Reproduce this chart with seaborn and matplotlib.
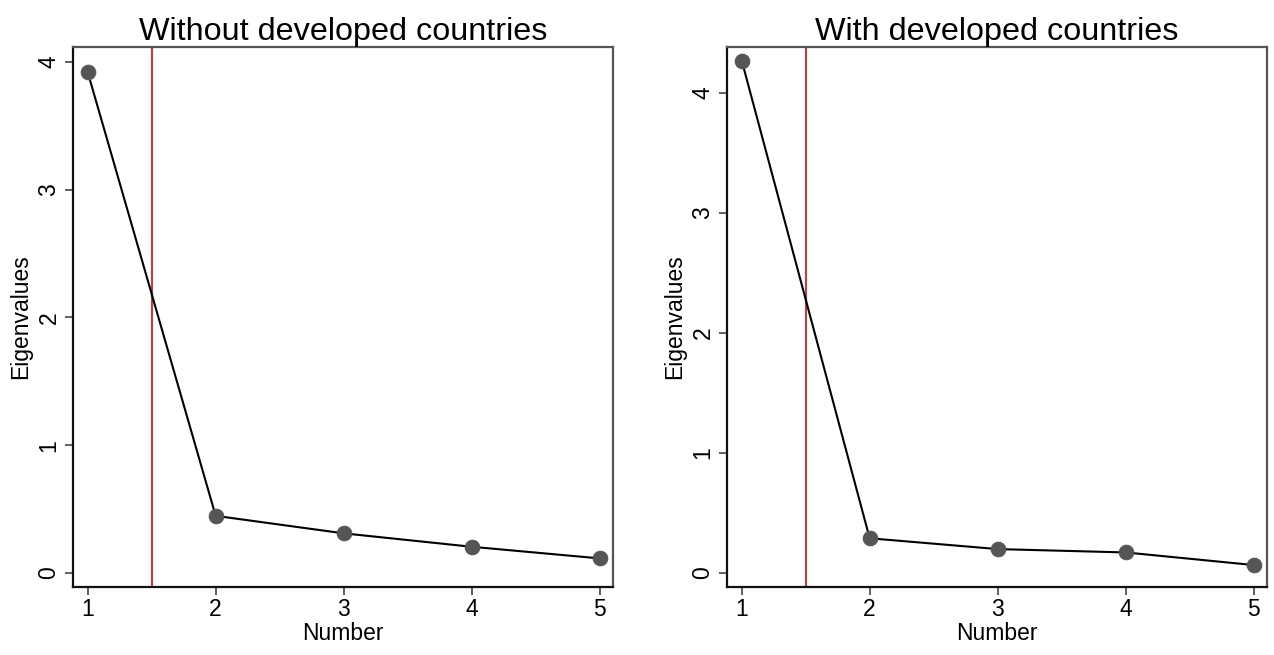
import matplotlib
matplotlib.use("Agg")
import matplotlib.pyplot as plt
import seaborn as sns
import pandas as pd

numbers = [1, 2, 3, 4, 5]
eig_without = [3.92, 0.447, 0.31, 0.205, 0.114]
eig_with = [4.27, 0.289, 0.199, 0.171, 0.066]
titles = ["Without developed countries", "With developed countries"]
yticks_vals = [0, 1, 2, 3, 4]
cutoff = 1.5

sns.set_theme(style="ticks")
plt.rcParams['font.family'] = ['Liberation Sans', 'DejaVu Sans']
plt.rcParams['text.color'] = 'black'
plt.rcParams['axes.labelcolor'] = 'black'
plt.rcParams['xtick.color'] = '#444444'
plt.rcParams['ytick.color'] = '#444444'
plt.rcParams['xtick.labelcolor'] = 'black'
plt.rcParams['ytick.labelcolor'] = 'black'

fig = plt.figure(figsize=(12.74, 6.55), dpi=100)
axes_pos = [
    [73/1274, 1-587/655, (613-73)/1274, (587-47)/655],
    [727/1274, 1-587/655, (1267-727)/1274, (587-47)/655],
]
ylims = [(-0.11, 4.117), (-0.117, 4.383)]
xlim = (0.885, 5.105)

for i, (vals, title) in enumerate(zip([eig_without, eig_with], titles)):
    ax = fig.add_axes(axes_pos[i])
    df = pd.DataFrame({"Number": numbers, "Eigenvalues": vals})
    ax.axvline(cutoff, color="#A84850", lw=1.6, zorder=1)
    sns.lineplot(data=df, x="Number", y="Eigenvalues", ax=ax, color="black",
                 lw=1.5, marker="o", markersize=10.5, markerfacecolor="#555555",
                 markeredgecolor="#555555", zorder=3)
    ax.set_xlim(*xlim)
    ax.set_ylim(*ylims[i])
    ax.set_xticks(numbers)
    ax.set_yticks(yticks_vals)
    ax.set_title(title, fontsize=23.3, pad=5, color="black")
    ax.set_xlabel("Number", fontsize=16.5, labelpad=1)
    ax.set_ylabel("Eigenvalues", fontsize=16.5, labelpad=4)
    ax.tick_params(axis="x", labelsize=16.5, direction="out", length=6,
                   width=1.2, pad=2)
    ax.tick_params(axis="y", labelsize=16.5, direction="out", length=6,
                   width=1.2, pad=3)
    plt.setp(ax.get_yticklabels(), rotation=90, va="center")
    for s in ["left", "bottom"]:
        ax.spines[s].set_color("#111111")
        ax.spines[s].set_linewidth(1.6)
    for s in ["top", "right"]:
        ax.spines[s].set_color("#555555")
        ax.spines[s].set_linewidth(1.6)
    ax.set_facecolor("white")

fig.savefig("out.png", dpi=100, facecolor="white")
